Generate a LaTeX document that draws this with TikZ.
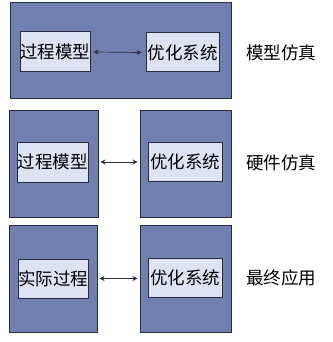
\documentclass[tikz,border=0pt]{standalone}
\usepackage{fontspec}
\newfontfamily\cjk{Noto Sans CJK SC}
\usetikzlibrary{arrows.meta}
\definecolor{outerblue}{RGB}{112,128,176}
\definecolor{innerblue}{RGB}{221,227,243}
\definecolor{edgedark}{RGB}{40,44,60}
\tikzset{
    outerbox/.style={rectangle, draw=edgedark, line width=1pt, fill=outerblue,
                     inner sep=0pt},
    innerbox/.style={rectangle, draw=edgedark, line width=1pt, fill=innerblue,
                     inner sep=0pt, font=\cjk\fontsize{17.5}{19}\selectfont},
    rowlabel/.style={font=\cjk\fontsize{17.5}{19}\selectfont, inner sep=0pt},
    link/.style={{Stealth[length=5pt,width=5pt]}-{Stealth[length=5pt,width=5pt]},
                 line width=0.7pt, draw=edgedark},
}
\begin{document}
\begin{tikzpicture}[x=1pt, y=-1pt]
    \useasboundingbox (0,0) rectangle (332,342);
    % model simulation
    \node[outerbox, minimum width=221pt, minimum height=96pt] (simA) at (120.5,51) {};
    \node[innerbox, minimum width=70pt, minimum height=40pt] (procA) at (55,52) {过程模型};
    \node[innerbox, minimum width=73pt, minimum height=39pt] (optA) at (182.5,52.5) {优化系统};
    \draw[link] ([xshift=3pt]procA.east) -- ([xshift=-4pt]optA.west);
    \node[rowlabel] (labA) at (281,53) {模型仿真};
    % hardware simulation
    \node[outerbox, minimum width=89pt, minimum height=107pt] (hwL) at (53.5,163.5) {};
    \node[outerbox, minimum width=91pt, minimum height=107pt] (hwR) at (185.5,163.5) {};
    \node[innerbox, minimum width=71pt, minimum height=40pt] (procB) at (52.5,162) {过程模型};
    \node[innerbox, minimum width=74pt, minimum height=39pt] (optB) at (185,161.5) {优化系统};
    \draw[link] ([xshift=2pt]hwL.east |- procB.east) -- ([xshift=-2pt]hwR.west |- procB.east);
    \node[rowlabel] (labB) at (281,163) {硬件仿真};
    % final application
    \node[outerbox, minimum width=88pt, minimum height=107pt] (appL) at (53,278.5) {};
    \node[outerbox, minimum width=91pt, minimum height=107pt] (appR) at (185.5,278.5) {};
    \node[innerbox, minimum width=70pt, minimum height=39pt] (procC) at (53,278.5) {实际过程};
    \node[innerbox, minimum width=74pt, minimum height=39pt] (optC) at (185,277.5) {优化系统};
    \draw[link] ([xshift=2pt]appL.east |- procC.east) -- ([xshift=-2pt]appR.west |- procC.east);
    \node[rowlabel] (labC) at (281,278) {最终应用};
\end{tikzpicture}
\end{document}
